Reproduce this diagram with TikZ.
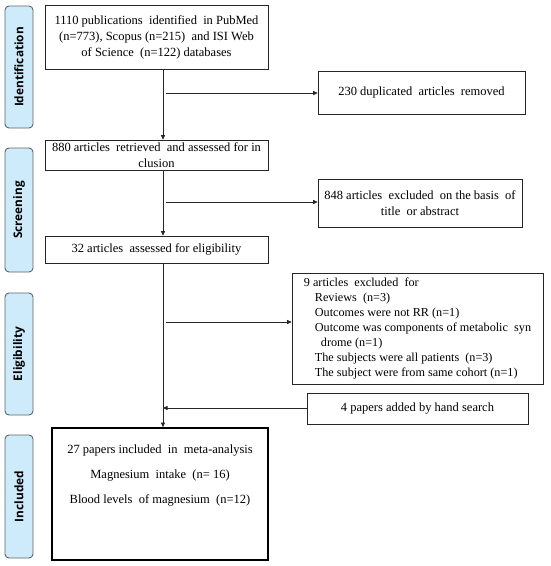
\documentclass[tikz,border=0pt]{standalone}
\usepackage{fontspec}
\setmainfont{Liberation Serif}
\newfontfamily\boxfont{Liberation Serif}
\newfontfamily\labelfont{Open Sans}
\usetikzlibrary{arrows.meta}
\definecolor{lblfill}{HTML}{CDEBFB}
\definecolor{lbldraw}{HTML}{5F6468}
\begin{document}
\begin{tikzpicture}[x=1pt,y=-1pt,
  box/.style={draw=black!85,line width=0.6pt,fill=white,align=center,font=\boxfont\fontsize{12.5}{16}\selectfont,inner sep=2pt},
  phase/.style={draw=lbldraw,line width=0.9pt,fill=lblfill,rounded corners=4pt,minimum width=28pt,font=\labelfont\bfseries\fontsize{11.8}{13}\selectfont},
  conn/.style={draw=black!85,line width=0.6pt},
  arr/.style={conn,-{Triangle[length=4.5pt,width=4pt]}}]
\useasboundingbox (0,0) rectangle (550,566);
% phase labels
\node[phase,minimum height=122pt] (p1) at (19,67) {\rotatebox{90}{Identification}};
\node[phase,minimum height=124pt] (p2) at (19,210) {\rotatebox{90}{Screening}};
\node[phase,minimum height=122pt] (p3) at (19,354) {\rotatebox{90}{Eligibility}};
\node[phase,minimum height=123pt] (p4) at (19,496.5) {\rotatebox{90}{Included}};
% main boxes
\node[box,minimum width=223pt,minimum height=64pt] (b1) at (156.5,37) {1110 publications\ \ identified\ \ in PubMed\\(n=773), Scopus (n=215)\ \ and ISI Web\\of Science\ \ (n=122)\ databases};
\node[box,minimum width=223pt,minimum height=30pt,inner sep=1pt] (b2) at (156.5,155) {880 articles\ \ retrieved\ \ and assessed for in\\clusion};
\node[box,minimum width=223pt,minimum height=27pt] (b3) at (156.5,249.5) {32 articles\ \ assessed for eligibility};
\node[box,minimum width=216pt,minimum height=132pt,line width=1.8pt,draw=black,align=center,font=\boxfont\fontsize{12.5}{25}\selectfont] (b4) at (160,494) {27 papers included\ \ in\ \ meta-analysis\\Magnesium\ \ intake\ \ (n= 16)\\Blood levels\ \ of magnesium\ \ (n=12)\\[14pt]\mbox{}};
% side boxes
\node[box,minimum width=207pt,minimum height=43pt] (s1) at (421.5,92.5) {230 duplicated\ \ articles\ \ removed};
\node[box,minimum width=204pt,minimum height=48pt] (s2) at (420,203) {848 articles\ \ excluded\ \ on the basis\ \ of\\title\ \ or abstract};
\node[box,minimum width=251pt,minimum height=111pt,align=left,font=\boxfont\fontsize{12.2}{15}\selectfont] (s3) at (417.5,328.5) {9 articles\ \ excluded\ \ for\\
\hspace*{11pt}Reviews\ \ (n=3)\\
\hspace*{11pt}Outcomes were not RR (n=1)\\
\hspace*{11pt}Outcome was components of metabolic\ \ syn\\
\hspace*{17pt}drome (n=1)\\
\hspace*{11pt}The subjects were all patients\ \ (n=3)\\
\hspace*{11pt}The subject were from same cohort (n=1)};
\node[box,minimum width=221pt,minimum height=31pt] (s4) at (417.5,408.5) {4 papers added by hand search};
% connectors
\coordinate (j1) at (166,93);
\coordinate (j2) at (166,202);
\coordinate (j3) at (166,322);
\coordinate (j4) at (163,408);
\draw[arr] (b1.south -| 163,0) -- (b2.north -| 163,0);
\draw[arr] (b2.south -| 163,0) -- (b3.north -| 163,0);
\draw[arr] (b3.south -| 163,0) -- (b4.north -| 163,0);
\draw[arr] (j1) -- (j1 -| s1.west);
\draw[arr] (j2) -- (j2 -| s2.west);
\draw[arr] (j3) -- (j3 -| s3.west);
\draw[arr] (s4.west |- j4) -- (j4);
\end{tikzpicture}
\end{document}
